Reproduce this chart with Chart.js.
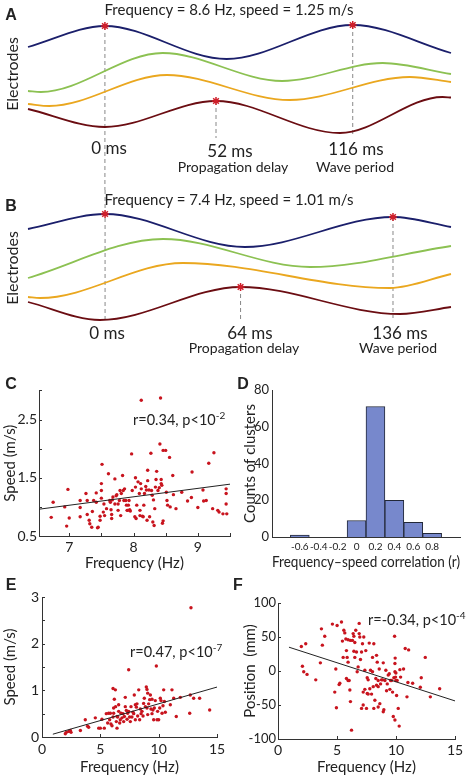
<!DOCTYPE html>
<html>
<head>
<meta charset="utf-8">
<script src="https://cdn.jsdelivr.net/npm/chart.js@4"></script>
<style>
  body { margin: 0; background: #fff; }
  #fig { position: relative; width: 467px; height: 776px; overflow: hidden; font-family: Lato, "Open Sans", sans-serif; color: #222; }
  #fig canvas { position: absolute; }
  #chartD { z-index: 3; }
  .t { position: absolute; transform: translate(-50%, -50%); white-space: nowrap; line-height: 1; }
  .l { position: absolute; transform: translateY(-50%); white-space: nowrap; line-height: 1; font-size: 14.5px; }
  .l sup { font-size: 10px; vertical-align: 6px; }
  .big { font-size: 17px; }
  .sm { font-size: 14px; }
  .ttl { font-size: 15px; }
  .rot { font-size: 16px; transform: translate(-50%, -50%) rotate(-90deg); }
  .pl { font-family: "Liberation Sans", Arial, sans-serif; font-weight: bold; font-size: 16px; }
</style>
</head>
<body>
<div id="fig">
  <canvas id="chartA" width="467" height="190" style="left:0;top:0"></canvas>
  <canvas id="chartB" width="467" height="186" style="left:0;top:190px"></canvas>
  <canvas id="chartC" width="235" height="195" style="left:0;top:380px"></canvas>
  <canvas id="chartE" width="235" height="191" style="left:0;top:585px"></canvas>
  <canvas id="chartF" width="232" height="186" style="left:235px;top:590px"></canvas>
  <canvas id="chartD" width="232" height="195" style="left:235px;top:380px"></canvas>

  <!-- panel A text -->
  <div class="t pl" style="left:11px;top:15px">A</div>
  <div class="t ttl" style="left:229px;top:9px">Frequency = 8.6 Hz, speed = 1.25 m/s</div>
  <div class="t rot" style="left:12px;top:74px">Electrodes</div>
  <div class="t big" style="left:109px;top:147px">0 ms</div>
  <div class="t big" style="left:230px;top:150px">52 ms</div>
  <div class="t big" style="left:356px;top:148px">116 ms</div>
  <div class="t sm" style="left:233px;top:167px">Propagation delay</div>
  <div class="t sm" style="left:355px;top:167px">Wave period</div>

  <!-- panel B text -->
  <div class="t pl" style="left:11px;top:206px">B</div>
  <div class="t ttl" style="left:229px;top:199px">Frequency = 7.4 Hz, speed = 1.01 m/s</div>
  <div class="t rot" style="left:12px;top:268px">Electrodes</div>
  <div class="t big" style="left:107px;top:332px">0 ms</div>
  <div class="t big" style="left:250px;top:332px">64 ms</div>
  <div class="t big" style="left:400px;top:332px">136 ms</div>
  <div class="t sm" style="left:244px;top:348px">Propagation delay</div>
  <div class="t sm" style="left:398px;top:348px">Wave period</div>

  <!-- lower panels -->
  <div class="t pl" style="left:11px;top:384px">C</div>
  <div class="t pl" style="left:243px;top:384px">D</div>
  <div class="t pl" style="left:11px;top:585px">E</div>
  <div class="t pl" style="left:238px;top:585px">F</div>
  <div class="l" style="left:133px;top:419px">r=0.34, p&lt;10<sup>-2</sup></div>
  <div class="l" style="left:130px;top:651px">r=0.47, p&lt;10<sup>-7</sup></div>
  <div class="l" style="left:368px;top:619px">r=-0.34, p&lt;10<sup>-4</sup></div>
</div>

<script>
// --- A: electrode traces, [time in ms, amplitude]
const aBlue   = [[-36, 93], [0, 114], [57, 81], [116, 115], [162, 87]];
const aGreen  = [[-36, 49], [-30, 48], [27, 87], [83, 59], [130, 77], [162, 66]];
const aOrange = [[-36, 36], [-26, 34], [29, 65], [86.5, 40], [142.7, 63], [162, 58]];
const aRed    = [[-36, 31], [0, 13], [52, 39], [110, 7], [158, 43], [162, 42.5]];
const aPeaks  = [[0, 114], [116, 115], [52, 39]];
const aGuides = [[[0, 114], [0, -50]], [[52, 39], [52, 2]], [[116, 115], [116, 3]]];

// --- B: electrode traces
const bBlue   = [[-36.4, 96], [0, 111], [66, 78], [136, 108], [163.4, 98]];
const bGreen  = [[-36.4, 47], [27.4, 86], [96.8, 58], [163.4, 79]];
const bOrange = [[-36.4, 28], [-30.7, 27], [36.8, 62], [134.6, 37], [163.4, 51]];
const bRed    = [[-36.4, 23], [-2.4, 5], [64, 38], [139.3, 11], [163.4, 18]];
const bPeaks  = [[0, 111], [136, 108], [64, 38]];
const bGuides = [[[0, 135], [0, 2]], [[64, 38], [64, 5]], [[136, 108], [136, 7]]];

// --- C: frequency vs speed, one cluster
const cFreq = [6.72,6.75,6.93,6.96,6.98,7.00,7.17,7.17,7.17,7.26,
  7.28,7.28,7.31,7.32,7.35,7.36,7.38,7.42,7.42,7.44,
  7.45,7.48,7.48,7.50,7.50,7.50,7.51,7.53,7.54,7.55,
  7.58,7.61,7.63,7.64,7.65,7.66,7.66,7.67,7.68,7.71,
  7.71,7.73,7.74,7.76,7.76,7.78,7.79,7.80,7.81,7.83,
  7.84,7.85,7.86,7.88,7.89,7.90,7.91,7.92,7.93,7.94,
  7.95,7.97,7.98,8.02,8.03,8.03,8.04,8.05,8.07,8.09,
  8.10,8.10,8.11,8.12,8.12,8.14,8.15,8.16,8.17,8.19,
  8.20,8.21,8.22,8.22,8.24,8.25,8.27,8.28,8.29,8.30,
  8.31,8.32,8.33,8.34,8.35,8.36,8.38,8.40,8.41,8.42,
  8.43,8.43,8.44,8.45,8.46,8.46,8.50,8.51,8.52,8.53,
  8.56,8.57,8.61,8.62,8.66,8.75,8.84,8.90,8.91,9.00,
  9.08,9.09,9.13,9.17,9.23,9.25,9.31,9.33,9.39,9.44,
  9.44,9.44,9.45];
const cSpeed = [0.82,1.08,1.00,0.67,1.30,0.81,1.11,0.99,0.83,1.23,
  1.11,0.87,0.77,0.71,0.65,0.92,1.11,1.24,1.08,0.64,
  0.65,0.77,0.84,1.40,1.28,1.15,1.73,0.91,1.05,0.85,
  0.97,1.57,1.11,1.08,0.95,0.87,0.80,1.12,1.17,1.48,
  1.05,1.19,1.21,1.05,0.94,1.11,1.28,0.85,1.23,1.54,
  1.28,1.11,1.31,1.11,1.03,0.94,0.94,1.03,1.11,0.95,
  0.93,1.91,1.28,0.83,1.50,1.34,0.80,1.03,1.43,1.23,
  0.85,0.94,1.40,2.83,1.31,0.84,0.83,1.03,1.23,1.35,
  1.29,0.77,1.63,1.45,1.29,0.83,1.92,1.28,1.20,0.74,
  1.12,0.68,0.97,1.34,1.47,1.61,1.28,1.33,2.08,2.87,
  1.47,1.40,1.37,0.72,0.76,1.97,1.97,1.25,1.11,1.03,
  1.85,1.00,1.54,1.21,0.97,1.25,1.10,1.16,1.60,0.99,
  1.29,1.10,1.11,1.75,0.97,1.93,0.94,0.91,0.88,1.31,
  1.23,1.05,0.88];
const cFitX = [6.53, 9.5];
const cFitY = [0.96, 1.39];

// --- D: histogram of correlations
const dBins   = [-0.6, -0.4, -0.2, 0, 0.2, 0.4, 0.6, 0.8];
const dCounts = [1, 0, 0, 9, 71, 20, 8, 2];

// --- E: frequency vs speed, all clusters
const eFreq = [2.00,2.09,2.29,2.43,2.49,3.29,3.71,3.91,4.00,4.57,
  4.86,5.00,5.14,5.34,5.51,5.63,5.71,5.80,5.86,5.91,
  6.00,6.09,6.09,6.14,6.14,6.20,6.29,6.31,6.37,6.43,
  6.43,6.49,6.57,6.57,6.66,6.71,6.77,6.86,6.94,7.00,
  7.06,7.14,7.14,7.23,7.29,7.34,7.43,7.43,7.51,7.57,
  7.63,7.71,7.80,7.86,7.91,8.00,8.00,8.09,8.14,8.20,
  8.29,8.37,8.43,8.49,8.57,8.66,8.71,8.77,8.86,8.94,
  9.00,9.00,9.06,9.06,9.14,9.23,9.29,9.34,9.43,9.43,
  9.51,9.57,9.63,9.71,9.80,9.86,9.91,10.00,10.09,10.14,
  10.20,10.29,10.37,10.43,10.49,10.57,11.00,11.14,11.29,11.51,
  11.86,12.66,12.71,12.77,13.00,13.51,14.37];
const eSpeed = [0.07,0.10,0.12,0.14,0.10,0.14,0.37,0.23,0.21,0.41,
  0.19,0.19,0.38,0.19,0.50,0.30,0.51,0.37,0.51,0.28,
  0.24,0.43,1.04,0.51,0.62,0.81,1.01,0.65,0.33,0.19,
  0.44,0.43,0.55,0.69,0.30,0.37,0.51,0.41,0.50,0.33,
  0.44,0.85,0.65,0.57,0.38,0.51,0.55,1.44,0.43,0.33,
  0.65,0.43,0.53,0.50,0.90,0.37,0.69,0.64,0.71,0.45,
  1.01,0.37,0.60,0.50,0.55,0.45,0.72,0.83,0.65,1.07,
  1.02,0.62,0.94,0.48,0.71,0.80,0.90,0.60,0.50,0.81,
  0.58,0.37,0.62,0.78,1.52,0.37,0.55,0.37,0.62,0.83,
  0.78,0.51,0.67,1.01,0.76,0.53,0.69,1.01,0.83,0.44,
  0.85,0.51,0.90,2.77,0.83,0.83,0.58];
const eFitX = [0.93, 15];
const eFitY = [0.06, 1.07];

// --- F: frequency vs position
const fFreq = [1.98,2.07,2.18,2.35,2.46,3.20,3.59,3.68,3.76,3.96,
  4.61,4.81,4.90,4.95,5.01,5.18,5.24,5.38,5.46,5.52,
  5.58,5.66,5.75,5.80,5.80,5.86,5.94,5.94,5.94,6.03,
  6.09,6.14,6.14,6.23,6.31,6.37,6.43,6.43,6.51,6.51,
  6.59,6.65,6.71,6.79,6.88,6.88,6.93,6.99,7.08,7.08,
  7.16,7.22,7.22,7.27,7.36,7.36,7.44,7.50,7.56,7.56,
  7.64,7.64,7.73,7.78,7.84,7.93,8.01,8.01,8.07,8.12,
  8.12,8.21,8.29,8.35,8.35,8.41,8.49,8.49,8.49,8.58,
  8.63,8.69,8.77,8.86,8.92,8.92,8.97,9.06,9.14,9.20,
  9.26,9.34,9.43,9.48,9.54,9.62,9.71,9.77,9.82,9.88,
  9.91,9.91,9.91,9.96,9.99,9.99,10.05,10.10,10.19,10.27,
  10.33,10.39,9.93,10.78,11.07,12.48,10.64,11.01,11.41,12.14,
  12.06,10.93,12.91,13.70];
const fPos = [36,7,-1,40,-5,-13,12,62,38,51,
  69,-31,3,-54,67,-20,-18,72,44,20,
  60,56,47,-11,30,20,-14,13,46,-14,
  -28,-45,45,-87,45,55,51,29,20,42,
  60,28,-1,6,70,55,50,17,28,-55,
  40,-50,-31,50,-27,1,30,-55,-33,-10,
  -13,-34,41,-26,1,-34,20,-1,-23,40,
  -55,-43,-11,-21,23,13,-23,-14,-53,3,
  -48,-19,-13,-13,12,-60,-57,-14,1,-29,
  -19,-6,-4,-27,-14,-14,-31,-67,-10,51,
  -72,11,-1,-9,-14,-3,-36,-14,-55,-81,
  2,-9,19,33,31,20,3,-17,-18,-10,
  -24,-38,-38,-26];
const fFitX = [0.93, 15];
const fFitY = [35, -44];

const NAVY = "#1b1f6b", GREEN = "#8cc152", ORANGE = "#eaa71f", DARKRED = "#6b0d12";
const DOT = "#c8141e", AXIS = "#333", INK = "#222";
const FONT = 'Lato, "Open Sans", sans-serif';

Chart.defaults.font.family = FONT;
Chart.defaults.color = INK;
Chart.defaults.animation = false;
Chart.defaults.plugins.legend.display = false;
Chart.defaults.plugins.tooltip.enabled = false;

const xy = (xs, ys) => xs.map((x, i) => ({ x, y: ys[i] }));
const pairs = (arr) => arr.map(([x, y]) => ({ x, y }));

// small inward tick marks, MATLAB style
const inTicks = {
  id: "inTicks",
  afterDraw(chart) {
    const { ctx, chartArea: a, scales } = chart;
    ctx.save();
    ctx.strokeStyle = AXIS;
    ctx.lineWidth = 1;
    Object.values(scales).forEach((s) => {
      s.ticks.forEach((t, i) => {
        const p = Math.round(s.getPixelForTick(i)) + 0.5;
        ctx.beginPath();
        if (s.isHorizontal()) { ctx.moveTo(p, a.bottom); ctx.lineTo(p, a.bottom - 3); }
        else { ctx.moveTo(a.left, p); ctx.lineTo(a.left + 3, p); }
        ctx.stroke();
      });
    });
    ctx.restore();
  }
};

// count labels for the histogram's y axis, written after everything else
const countLabels = {
  id: "countLabels",
  afterDraw(chart) {
    const { ctx, chartArea: a } = chart;
    const s = chart.scales.y;
    ctx.save();
    ctx.fillStyle = INK;
    ctx.font = "13px " + FONT;
    ctx.textAlign = "right";
    ctx.textBaseline = "middle";
    s.ticks.forEach((t, i) => ctx.fillText(String(t.value), a.left - 3, s.getPixelForTick(i)));
    ctx.restore();
  }
};

// --- shared axis builder for the lower panels
function axis(opts) {
  return {
    type: "linear",
    display: true,
    min: opts.min,
    max: opts.max,
    grid: { display: false, drawTicks: false },
    border: { display: true, color: AXIS, width: 1 },
    ticks: {
      display: opts.showTicks !== false,
      color: INK,
      stepSize: opts.step,
      includeBounds: false,
      autoSkip: false,
      maxRotation: 0,
      padding: opts.tickPad,
      font: { size: opts.tickSize },
      callback: opts.label
    },
    title: {
      display: true,
      color: INK,
      text: opts.title,
      font: { size: 15 },
      padding: opts.titlePad
    },
    afterFit: (s) => {
      if (s.isHorizontal()) s.height = opts.size;
      else s.width = opts.size;
    }
  };
}

// --- D: histogram
new Chart(document.getElementById("chartD"), {
  type: "bar",
  data: {
    datasets: [{
      data: xy(dBins, dCounts),
      backgroundColor: "#7788cc",
      borderColor: "#222838",
      borderWidth: 1,
      barPercentage: 1,
      categoryPercentage: 1
    }]
  },
  options: {
    responsive: false,
    layout: { padding: { left: 0, right: 7, top: 10, bottom: 0 } },
    scales: {
      x: axis({ min: -0.77, max: 0.97, step: 0.2, tickPad: 4, tickSize: 10,
        label: (v) => { const r = Math.round(v * 10) / 10; return r === 0 ? "0" : r.toFixed(1); },
        title: "Frequency\u2013speed correlation (r)", titlePad: { top: 0, bottom: 4 }, size: 38 }),
      y: axis({ min: 0, max: 80, step: 20, tickPad: 3, tickSize: 13, showTicks: false,
        title: "Counts of clusters", titlePad: { top: 6, bottom: 0 }, size: 37 })
    }
  },
  plugins: [countLabels]
});

// --- traces (A, B)
function traceChart(id, curves, peaks, guides, xmin, xmax, pad) {
  const colors = [NAVY, GREEN, ORANGE, DARKRED];
  const datasets = [{
    type: "scatter",
    data: pairs(peaks),
    pointStyle: "star",
    pointRadius: 4,
    borderColor: "#d01f2a",
    borderWidth: 1.5,
    clip: false
  }];
  curves.forEach((c, i) => datasets.push({
    data: pairs(c),
    borderColor: colors[i],
    borderWidth: 1.8,
    pointRadius: 0,
    cubicInterpolationMode: "monotone",
    clip: false
  }));
  guides.forEach((g) => datasets.push({
    data: pairs(g),
    borderColor: "#888",
    borderWidth: 1,
    borderDash: [4, 3],
    pointRadius: 0,
    clip: false
  }));
  return new Chart(document.getElementById(id), {
    type: "line",
    data: { datasets },
    options: {
      responsive: false,
      layout: { padding: pad },
      scales: {
        x: { type: "linear", display: false, min: xmin, max: xmax },
        y: { display: false, min: 0, max: 120 }
      }
    }
  });
}

traceChart("chartA", [aBlue, aGreen, aOrange, aRed], aPeaks, aGuides, -36, 162,
  { left: 28, right: 16, top: 20, bottom: 50 });
traceChart("chartB", [bBlue, bGreen, bOrange, bRed], bPeaks, bGuides, -36.4, 163.4,
  { left: 28, right: 16, top: 15, bottom: 51 });

function scatterChart(id, xs, ys, fx, fy, pad, xAxis, yAxis) {
  return new Chart(document.getElementById(id), {
    type: "scatter",
    data: {
      datasets: [
        { data: xy(fx, fy), showLine: true, borderColor: "#222", borderWidth: 1, pointRadius: 0 },
        { data: xy(xs, ys), pointRadius: 1.7, borderWidth: 0, backgroundColor: DOT }
      ]
    },
    options: {
      responsive: false,
      layout: { padding: pad },
      scales: { x: axis(xAxis), y: axis(yAxis) }
    },
    plugins: [inTicks]
  });
}

const intOnly = (v) => (Number.isInteger(v) ? v : "");

scatterChart("chartC", cFreq, cSpeed, cFitX, cFitY,
  { left: 0, right: 5, top: 10, bottom: 0 },
  { min: 6.53, max: 9.5, step: 0.5, tickPad: 3, tickSize: 14, label: intOnly,
    title: "Frequency (Hz)", titlePad: { top: 0, bottom: 3 }, size: 39 },
  { min: 0.5, max: 3, step: 0.5, tickPad: 2, tickSize: 14,
    label: (v) => (Math.round(v * 2) % 2 === 1 ? v.toFixed(1) : ""),
    title: "Speed (m/s)", titlePad: { top: 1, bottom: 0 }, size: 39 });

scatterChart("chartE", eFreq, eSpeed, eFitX, eFitY,
  { left: 0, right: 18, top: 12, bottom: 0 },
  { min: 0, max: 15, step: 5, tickPad: 4, tickSize: 14, label: intOnly,
    title: "Frequency (Hz)", titlePad: { top: 0, bottom: 0 }, size: 39 },
  { min: 0, max: 3, step: 0.5, tickPad: 3, tickSize: 14, label: intOnly,
    title: "Speed (m/s)", titlePad: { top: 1, bottom: 0 }, size: 42 });

scatterChart("chartF", fFreq, fPos, fFitX, fFitY,
  { left: 0, right: 12, top: 13, bottom: 0 },
  { min: 0, max: 15, step: 5, tickPad: 3, tickSize: 14, label: intOnly,
    title: "Frequency (Hz)", titlePad: { top: 0, bottom: 0 }, size: 37 },
  { min: -100, max: 100, step: 50, tickPad: 2, tickSize: 13, label: (v) => v,
    title: "Position  (mm)", titlePad: { top: 6, bottom: 0 }, size: 43 });
</script>
</body>
</html>
